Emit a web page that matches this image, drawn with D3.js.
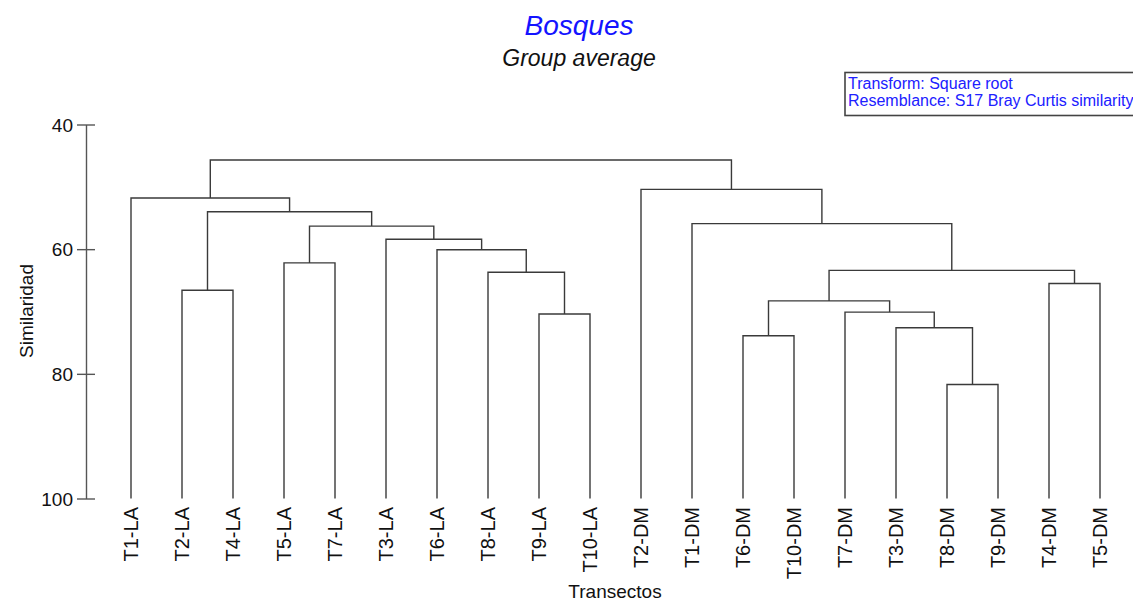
<!DOCTYPE html>
<html>
<head>
<meta charset="utf-8">
<script src="https://cdn.jsdelivr.net/npm/d3@7"></script>
<style>
  body { margin: 0; background: #fff; }
  svg text { font-family: "Liberation Sans", Arial, sans-serif; }
</style>
</head>
<body>
<div class="dendro"></div>
<script>
// leaf order along the x axis
var leaves = ["T1-LA", "T2-LA", "T4-LA", "T5-LA", "T7-LA", "T3-LA", "T6-LA", "T8-LA", "T9-LA", "T10-LA",
              "T2-DM", "T1-DM", "T6-DM", "T10-DM", "T7-DM", "T3-DM", "T8-DM", "T9-DM", "T4-DM", "T5-DM"];

// merges: each pair joins a leaf name or an earlier merge ("m" + index)
var merges = [
    ["T9-LA", "T10-LA"], ["T8-LA", "m0"], ["T6-LA", "m1"], ["T3-LA", "m2"],
    ["T5-LA", "T7-LA"], ["m4", "m3"], ["T2-LA", "T4-LA"], ["m6", "m5"], ["T1-LA", "m7"],
    ["T8-DM", "T9-DM"], ["T3-DM", "m9"], ["T7-DM", "m10"], ["T6-DM", "T10-DM"], ["m12", "m11"],
    ["T4-DM", "T5-DM"], ["m13", "m14"], ["T1-DM", "m15"], ["T2-DM", "m16"], ["m8", "m17"]
];
// similarity at which each merge happens
var similarity = [70.4, 63.7, 60.1, 58.4, 62.2, 56.3, 66.6, 54.0, 51.8,
                  81.7, 72.6, 70.1, 73.9, 68.3, 65.5, 63.4, 55.9, 50.4, 45.7];

var yTicks = [40, 60, 80, 100];

var W = 1133, H = 603;
var svg = d3.select(".dendro").append("svg")
    .attr("width", W)
    .attr("height", H);

// scales
var xScale = d3.scalePoint().domain(leaves).range([131, 1100]);
var yScale = d3.scaleLinear().domain([40, 100]).range([124.5, 498.5]);

// position of each node: leaves on the axis, merges at the midpoint of children
var pos = {};
leaves.forEach(function(l) { pos[l] = {x: xScale(l), s: 100}; });
merges.forEach(function(m, i) {
    var a = pos[m[0]], b = pos[m[1]];
    pos["m" + i] = {x: (a.x + b.x) / 2, s: similarity[i], a: a, b: b};
});

var lineColor = "#3a3a3a";
var g = svg.append("g").attr("class", "tree");

// one bracket per merge: down to child a, across, down to child b
merges.forEach(function(m, i) {
    var n = pos["m" + i], y = yScale(n.s);
    var path = "M" + n.a.x + "," + yScale(n.a.s) + "V" + y + "H" + n.b.x + "V" + yScale(n.b.s);
    g.append("path")
        .attr("d", path)
        .attr("fill", "none")
        .attr("stroke", lineColor)
        .attr("stroke-width", 1.4);
});

// y axis, ticks cross the line
var yAxis = d3.axisLeft(yScale).tickValues(yTicks).tickSize(0).tickPadding(0);
var ya = svg.append("g").attr("transform", "translate(86,0)").call(yAxis);
ya.select(".domain").attr("stroke", "#555").attr("stroke-width", 1.4);
ya.selectAll(".tick line").remove();
ya.selectAll(".tick").append("line")
    .attr("x1", -9).attr("x2", 9)
    .attr("stroke", "#555").attr("stroke-width", 1.4);
ya.selectAll(".tick text")
    .attr("x", -13)
    .attr("dy", "0.35em")
    .style("font-size", "19px")
    .style("font-family", "'Liberation Sans', Arial, sans-serif")
    .attr("fill", "#111");

// y axis label
svg.append("text")
    .attr("transform", "translate(33,311)rotate(-90)")
    .style("text-anchor", "middle")
    .style("font-size", "19px")
    .attr("fill", "#111")
    .text("Similaridad");

// leaf labels
svg.selectAll(".leaf-label")
    .data(leaves)
  .enter().append("text")
    .attr("class", "leaf-label")
    .attr("transform", function(d) { return "translate(" + xScale(d) + ",507)rotate(-90)"; })
    .attr("dy", "0.36em")
    .style("text-anchor", "end")
    .style("font-size", "20px")
    .attr("fill", "#111")
    .text(function(d) { return d; });

// x axis label
svg.append("text")
    .attr("x", 615).attr("y", 598)
    .style("text-anchor", "middle")
    .style("font-size", "19px")
    .attr("fill", "#111")
    .text("Transectos");

// headings
svg.append("text")
    .attr("x", 579).attr("y", 35)
    .style("text-anchor", "middle")
    .style("font-size", "28px")
    .style("font-style", "italic")
    .attr("fill", "#1414ff")
    .text("Bosques");
svg.append("text")
    .attr("x", 579).attr("y", 66)
    .style("text-anchor", "middle")
    .style("font-size", "23px")
    .style("font-style", "italic")
    .attr("fill", "#111")
    .text("Group average");

// info box
var info = ["Transform: Square root", "Resemblance: S17 Bray Curtis similarity"];
svg.append("rect")
    .attr("x", 845).attr("y", 72.5)
    .attr("width", 300).attr("height", 43)
    .attr("fill", "#fff")
    .attr("stroke", "#444")
    .attr("stroke-width", 1.6);
svg.selectAll(".info")
    .data(info)
  .enter().append("text")
    .attr("class", "info")
    .attr("x", 848)
    .attr("y", function(d, i) { return 89 + i * 17; })
    .style("font-size", "16px")
    .attr("fill", "#2020ff")
    .text(function(d) { return d; });
</script>
</body>
</html>
